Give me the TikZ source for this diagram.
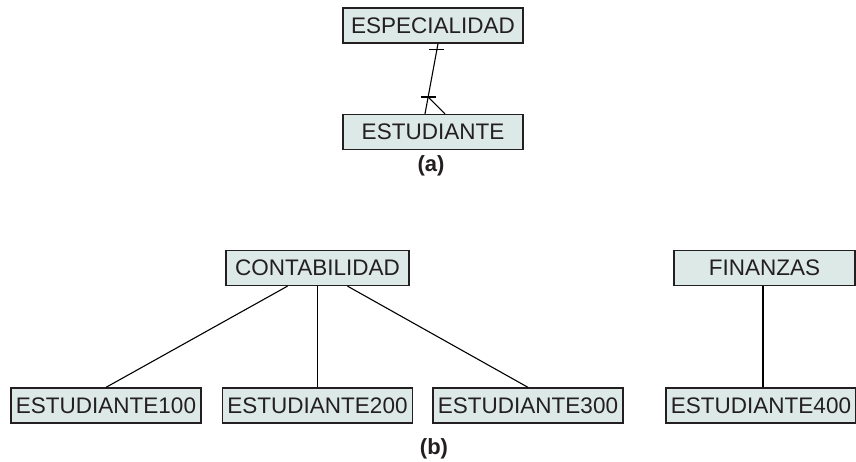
\documentclass[tikz,border=0pt]{standalone}
\usepackage{fontspec}
\setmainfont{Liberation Sans}
\usetikzlibrary{calc}
\definecolor{entfill}{HTML}{DCE9E6}
\definecolor{inkgray}{HTML}{231F20}
\begin{document}
\begin{tikzpicture}[x=1pt,y=-1pt,
    ent/.style={draw=inkgray,line width=1.3pt,fill=entfill,text=inkgray,
      minimum height=35pt,inner sep=0pt,font=\fontsize{22.5}{25}\selectfont},
    rel/.style={line width=1.1pt,black},
    figlabel/.style={font=\fontsize{22}{25}\selectfont\bfseries,text=inkgray}]
  \useasboundingbox (0,0) rectangle (856,462);

  % (a)
  \node[ent,minimum width=180pt] (espe) at (433,25.5) {ESPECIALIDAD};
  \node[ent,minimum width=180pt] (estu) at (433,132) {ESTUDIANTE};
  \coordinate (p1) at ([xshift=5pt]espe.south);
  \coordinate (p2) at ([xshift=-8pt]estu.north);
  \draw[rel] (p1) -- (p2);
  \draw[rel] ($(p1)!0.08!(p2)$) ++(-7.5,0) -- ++(15,0);
  \draw[rel] ($(p1)!0.76!(p2)$) ++(-7.5,0) -- ++(15,0);
  \draw[rel] ($(p1)!0.76!(p2)$) -- ([xshift=12pt]estu.north);
  \node[figlabel] (capa) at (431,166) {(a)};

  % (b)
  \node[ent,minimum width=183pt] (cont) at (317.5,268) {CONTABILIDAD};
  \node[ent,minimum width=181pt] (fin) at (764.5,268) {FINANZAS};
  \foreach \n/\x in {1/106,2/317.5,3/528,4/761}
    \node[ent,minimum width=190pt] (e\n) at (\x,405.5) {ESTUDIANTE\n00};
  \draw[rel] ([xshift=-30pt]cont.south) -- (e1.north);
  \draw[rel] (cont.south) -- (cont.south |- e2.north);
  \draw[rel] ([xshift=30pt]cont.south) -- (e3.north);
  \draw[rel] ([xshift=-1.5pt]fin.south) -- ([xshift=-1.5pt]fin.south |- e4.north);
  \node[figlabel] (capb) at (434,449) {(b)};
\end{tikzpicture}
\end{document}
